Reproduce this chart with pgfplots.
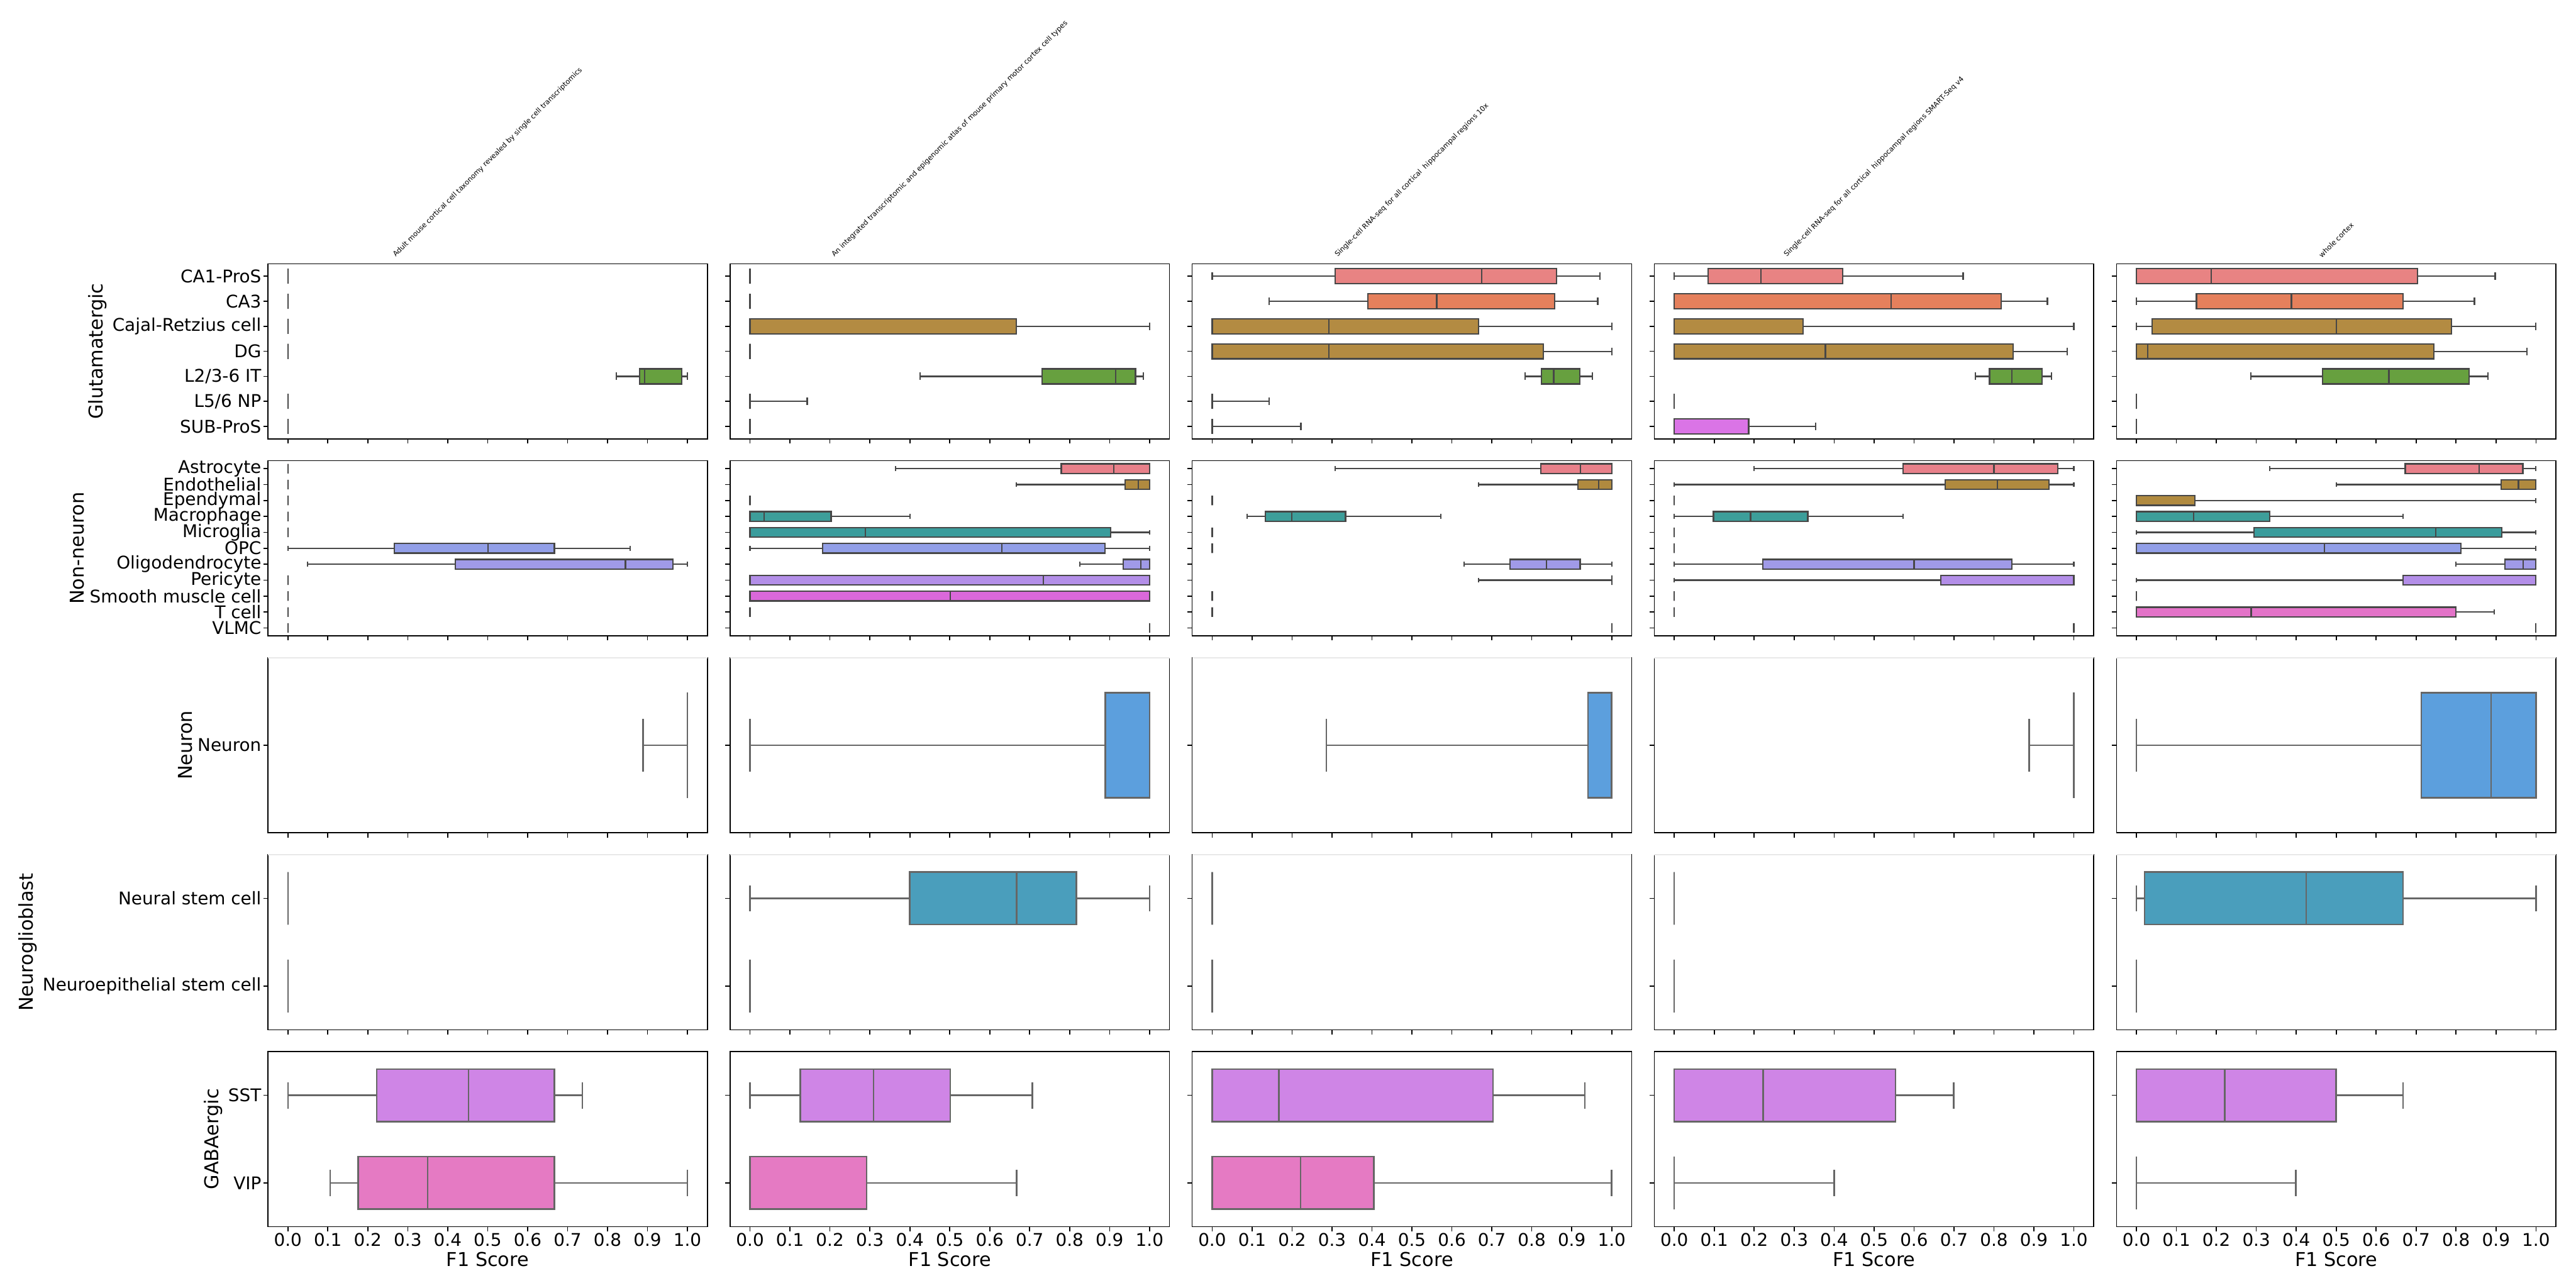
\documentclass[border=0pt]{standalone}
\usepackage{fontspec}
\setmainfont{DejaVu Sans}
\usepackage{graphicx}
\usepackage{pgfplots}
\pgfplotsset{compat=1.18}
\usepgfplotslibrary{statistics}

\definecolor{edgeA}{HTML}{474747}
\definecolor{edgeB}{HTML}{666666}
\definecolor{cCAa}{HTML}{E88383}
\definecolor{cCAb}{HTML}{E5805C}
\definecolor{cBrn}{HTML}{B38B42}
\definecolor{cGrn}{HTML}{67A03F}
\definecolor{cNP}{HTML}{3EA08E}
\definecolor{cSub}{HTML}{DA74E6}
\definecolor{cAst}{HTML}{E8808A}
\definecolor{cEnd}{HTML}{B08A3F}
\definecolor{cMac}{HTML}{3D9E9A}
\definecolor{cMic}{HTML}{3A9C9C}
\definecolor{cOPC}{HTML}{929FE8}
\definecolor{cOli}{HTML}{A09AE8}
\definecolor{cPer}{HTML}{B38EE8}
\definecolor{cSmo}{HTML}{DA68DA}
\definecolor{cTce}{HTML}{E373C8}
\definecolor{cVLM}{HTML}{E680B0}
\definecolor{cNeu}{HTML}{5C9FDD}
\definecolor{cNSC}{HTML}{4A9EBC}
\definecolor{cSST}{HTML}{CF85E6}
\definecolor{cVIP}{HTML}{E57AC3}

\newcommand{\bx}[7]{\addplot[bxs, fill=#7, boxplot prepared={draw position=#1, lower whisker=#2, lower quartile=#3, median=#4, upper quartile=#5, upper whisker=#6}] coordinates {};}

\pgfplotsset{
  bxs/.style={draw=edgeA, line width=0.55pt, solid},
  panel/.style={scale only axis, width=170.6pt, height=68pt, anchor=north west,
    xmin=-0.05, xmax=1.05, xtick={0,0.1,0.2,0.3,0.4,0.5,0.6,0.7,0.8,0.9,1},
    xticklabels={}, yticklabels={}, y dir=reverse, tick pos=left, tick align=outside,
    major tick length=1.8pt, axis line style={line width=0.4pt},
    every tick/.style={black, line width=0.4pt}, clip=false,
    boxplot/draw direction=x, boxplot/box extend=0.6, boxplot/whisker extend=0.3,
    tick label style={font=\fontsize{6.8}{8}\selectfont, inner sep=0.6pt},
    label style={font=\fontsize{7.4}{9}\selectfont},
    ylabel shift=-2pt, xlabel shift=-2pt},
  rowA/.style={panel, ytick={0,1,2,3,4,5,6}, ymin=-0.5, ymax=6.5},
  rowB/.style={panel, ytick={0,1,2,3,4,5,6,7,8,9,10}, ymin=-0.5, ymax=10.5},
  rowC/.style={panel, ytick={0}, ymin=-0.5, ymax=0.5, bxs/.style={draw=edgeB, line width=0.6pt, solid}},
  rowD/.style={panel, ytick={0,1}, ymin=-0.5, ymax=1.5, bxs/.style={draw=edgeB, line width=0.6pt, solid}},
  rowE/.style={panel, ytick={0,1}, ymin=-0.5, ymax=1.5, bxs/.style={draw=edgeB, line width=0.6pt, solid},
    xticklabels={0.0,0.1,0.2,0.3,0.4,0.5,0.6,0.7,0.8,0.9,1.0}, xlabel={F1 Score}},
  labA/.style={yticklabels={CA1-ProS,CA3,Cajal-Retzius cell,DG,L2/3-6 IT,L5/6 NP,SUB-ProS}, ylabel={Glutamatergic}},
  labB/.style={yticklabels={Astrocyte,Endothelial,Ependymal,Macrophage,Microglia,OPC,Oligodendrocyte,Pericyte,Smooth muscle cell,T cell,VLMC}, ylabel={Non-neuron}},
  labC/.style={yticklabels={Neuron}, ylabel={Neuron}},
  labD/.style={yticklabels={Neural stem cell,Neuroepithelial stem cell}, ylabel={Neuroglioblast}},
  labE/.style={yticklabels={SST,VIP}, ylabel={GABAergic}},
}

\begin{document}
\begin{tikzpicture}
\useasboundingbox (0,0) rectangle (1000pt,500pt);

% ---------------- Row 1: Glutamatergic ----------------
\begin{axis}[rowA, labA, name=r1c1, at={(104pt,397.6pt)}]
\bx{0}{0}{0}{0}{0}{0}{cCAa}
\bx{1}{0}{0}{0}{0}{0}{cCAb}
\bx{2}{0}{0}{0}{0}{0}{cBrn}
\bx{3}{0}{0}{0}{0}{0}{cBrn}
\bx{4}{0.822}{0.880}{0.893}{0.986}{1.0}{cGrn}
\bx{5}{0}{0}{0}{0}{0}{cNP}
\bx{6}{0}{0}{0}{0}{0}{cSub}
\end{axis}
\begin{axis}[rowA, name=r1c2, at={(283.4pt,397.6pt)}]
\bx{0}{0}{0}{0}{0}{0}{cCAa}
\bx{1}{0}{0}{0}{0}{0}{cCAb}
\bx{2}{0}{0}{0}{0.667}{1.0}{cBrn}
\bx{3}{0}{0}{0}{0}{0}{cBrn}
\bx{4}{0.426}{0.731}{0.915}{0.965}{0.984}{cGrn}
\bx{5}{0}{0}{0}{0}{0.143}{cNP}
\bx{6}{0}{0}{0}{0}{0}{cSub}
\end{axis}
\begin{axis}[rowA, name=r1c3, at={(462.8pt,397.6pt)}]
\bx{0}{0}{0.308}{0.675}{0.862}{0.970}{cCAa}
\bx{1}{0.143}{0.390}{0.562}{0.857}{0.965}{cCAb}
\bx{2}{0}{0}{0.292}{0.667}{1.0}{cBrn}
\bx{3}{0}{0}{0.292}{0.829}{1.0}{cBrn}
\bx{4}{0.783}{0.824}{0.855}{0.920}{0.952}{cGrn}
\bx{5}{0}{0}{0}{0}{0.143}{cNP}
\bx{6}{0}{0}{0}{0}{0.222}{cSub}
\end{axis}
\begin{axis}[rowA, name=r1c4, at={(642.2pt,397.6pt)}]
\bx{0}{0}{0.085}{0.217}{0.422}{0.723}{cCAa}
\bx{1}{0}{0}{0.543}{0.818}{0.934}{cCAb}
\bx{2}{0}{0}{0}{0.322}{1.0}{cBrn}
\bx{3}{0}{0}{0.378}{0.848}{0.984}{cBrn}
\bx{4}{0.754}{0.789}{0.845}{0.920}{0.944}{cGrn}
\bx{5}{0}{0}{0}{0}{0}{cNP}
\bx{6}{0}{0}{0}{0.186}{0.354}{cSub}
\end{axis}
\begin{axis}[rowA, name=r1c5, at={(821.6pt,397.6pt)}]
\bx{0}{0}{0}{0.187}{0.704}{0.898}{cCAa}
\bx{1}{0}{0.150}{0.388}{0.667}{0.846}{cCAb}
\bx{2}{0}{0.039}{0.500}{0.788}{1.0}{cBrn}
\bx{3}{0}{0}{0.028}{0.745}{0.977}{cBrn}
\bx{4}{0.286}{0.466}{0.632}{0.832}{0.880}{cGrn}
\bx{5}{0}{0}{0}{0}{0}{cNP}
\bx{6}{0}{0}{0}{0}{0}{cSub}
\end{axis}

% ---------------- Row 2: Non-neuron ----------------
\begin{axis}[rowB, labB, name=r2c1, at={(104pt,321.15pt)}]
\bx{0}{0}{0}{0}{0}{0}{cAst}
\bx{1}{0}{0}{0}{0}{0}{cEnd}
\bx{2}{0}{0}{0}{0}{0}{cEnd}
\bx{3}{0}{0}{0}{0}{0}{cMac}
\bx{4}{0}{0}{0}{0}{0}{cMic}
\bx{5}{0}{0.267}{0.501}{0.667}{0.857}{cOPC}
\bx{6}{0.049}{0.419}{0.845}{0.964}{1.0}{cOli}
\bx{7}{0}{0}{0}{0}{0}{cPer}
\bx{8}{0}{0}{0}{0}{0}{cSmo}
\bx{9}{0}{0}{0}{0}{0}{cTce}
\bx{10}{0}{0}{0}{0}{0}{cVLM}
\end{axis}
\begin{axis}[rowB, name=r2c2, at={(283.4pt,321.15pt)}]
\bx{0}{0.364}{0.779}{0.910}{1.0}{1.0}{cAst}
\bx{1}{0.667}{0.939}{0.972}{1.0}{1.0}{cEnd}
\bx{2}{0}{0}{0}{0}{0}{cEnd}
\bx{3}{0}{0}{0.035}{0.203}{0.400}{cMac}
\bx{4}{0}{0}{0.289}{0.903}{1.0}{cMic}
\bx{5}{0}{0.182}{0.630}{0.889}{1.0}{cOPC}
\bx{6}{0.826}{0.934}{0.978}{1.0}{1.0}{cOli}
\bx{7}{0}{0}{0.734}{1.0}{1.0}{cPer}
\bx{8}{0}{0}{0.501}{1.0}{1.0}{cSmo}
\bx{9}{0}{0}{0}{0}{0}{cTce}
\bx{10}{1.0}{1.0}{1.0}{1.0}{1.0}{cVLM}
\end{axis}
\begin{axis}[rowB, name=r2c3, at={(462.8pt,321.15pt)}]
\bx{0}{0.308}{0.823}{0.922}{1.0}{1.0}{cAst}
\bx{1}{0.667}{0.915}{0.967}{1.0}{1.0}{cEnd}
\bx{2}{0}{0}{0}{0}{0}{cEnd}
\bx{3}{0.087}{0.133}{0.199}{0.334}{0.572}{cMac}
\bx{4}{0}{0}{0}{0}{0}{cMic}
\bx{5}{0}{0}{0}{0}{0}{cOPC}
\bx{6}{0.630}{0.745}{0.837}{0.921}{1.0}{cOli}
\bx{7}{0.667}{1.0}{1.0}{1.0}{1.0}{cPer}
\bx{8}{0}{0}{0}{0}{0}{cSmo}
\bx{9}{0}{0}{0}{0}{0}{cTce}
\bx{10}{1.0}{1.0}{1.0}{1.0}{1.0}{cVLM}
\end{axis}
\begin{axis}[rowB, name=r2c4, at={(642.2pt,321.15pt)}]
\bx{0}{0.200}{0.572}{0.800}{0.960}{1.0}{cAst}
\bx{1}{0}{0.678}{0.809}{0.938}{1.0}{cEnd}
\bx{2}{0}{0}{0}{0}{0}{cEnd}
\bx{3}{0}{0.098}{0.191}{0.334}{0.572}{cMac}
\bx{4}{0}{0}{0}{0}{0}{cMic}
\bx{5}{0}{0}{0}{0}{0}{cOPC}
\bx{6}{0}{0.222}{0.600}{0.845}{1.0}{cOli}
\bx{7}{0}{0.667}{1.0}{1.0}{1.0}{cPer}
\bx{8}{0}{0}{0}{0}{0}{cSmo}
\bx{9}{0}{0}{0}{0}{0}{cTce}
\bx{10}{1.0}{1.0}{1.0}{1.0}{1.0}{cVLM}
\end{axis}
\begin{axis}[rowB, name=r2c5, at={(821.6pt,321.15pt)}]
\bx{0}{0.333}{0.673}{0.858}{0.967}{1.0}{cAst}
\bx{1}{0.500}{0.913}{0.956}{1.0}{1.0}{cEnd}
\bx{2}{0}{0}{0}{0.146}{1.0}{cEnd}
\bx{3}{0}{0}{0.143}{0.334}{0.667}{cMac}
\bx{4}{0}{0.294}{0.749}{0.914}{1.0}{cMic}
\bx{5}{0}{0}{0.471}{0.812}{1.0}{cOPC}
\bx{6}{0.799}{0.922}{0.968}{1.0}{1.0}{cOli}
\bx{7}{0}{0.667}{1.0}{1.0}{1.0}{cPer}
\bx{8}{0}{0}{0}{0}{0}{cSmo}
\bx{9}{0}{0}{0.287}{0.800}{0.895}{cTce}
\bx{10}{1.0}{1.0}{1.0}{1.0}{1.0}{cVLM}
\end{axis}

% ---------------- Row 3: Neuron ----------------
\begin{axis}[rowC, labC, name=r3c1, at={(104pt,244.7pt)}]
\bx{0}{0.889}{1.0}{1.0}{1.0}{1.0}{cNeu}
\end{axis}
\begin{axis}[rowC, name=r3c2, at={(283.4pt,244.7pt)}]
\bx{0}{0}{0.889}{1.0}{1.0}{1.0}{cNeu}
\end{axis}
\begin{axis}[rowC, name=r3c3, at={(462.8pt,244.7pt)}]
\bx{0}{0.286}{0.941}{1.0}{1.0}{1.0}{cNeu}
\end{axis}
\begin{axis}[rowC, name=r3c4, at={(642.2pt,244.7pt)}]
\bx{0}{0.888}{1.0}{1.0}{1.0}{1.0}{cNeu}
\end{axis}
\begin{axis}[rowC, name=r3c5, at={(821.6pt,244.7pt)}]
\bx{0}{0}{0.713}{0.888}{1.0}{1.0}{cNeu}
\end{axis}

% ---------------- Row 4: Neuroglioblast ----------------
\begin{axis}[rowD, labD, name=r4c1, at={(104pt,168.25pt)}]
\bx{0}{0}{0}{0}{0}{0}{cNSC}
\bx{1}{0}{0}{0}{0}{0}{cNSC}
\end{axis}
\begin{axis}[rowD, name=r4c2, at={(283.4pt,168.25pt)}]
\bx{0}{0}{0.400}{0.667}{0.817}{1.0}{cNSC}
\bx{1}{0}{0}{0}{0}{0}{cNSC}
\end{axis}
\begin{axis}[rowD, name=r4c3, at={(462.8pt,168.25pt)}]
\bx{0}{0}{0}{0}{0}{0}{cNSC}
\bx{1}{0}{0}{0}{0}{0}{cNSC}
\end{axis}
\begin{axis}[rowD, name=r4c4, at={(642.2pt,168.25pt)}]
\bx{0}{0}{0}{0}{0}{0}{cNSC}
\bx{1}{0}{0}{0}{0}{0}{cNSC}
\end{axis}
\begin{axis}[rowD, name=r4c5, at={(821.6pt,168.25pt)}]
\bx{0}{0}{0.020}{0.425}{0.667}{1.0}{cNSC}
\bx{1}{0}{0}{0}{0}{0}{cNSC}
\end{axis}

% ---------------- Row 5: GABAergic ----------------
\begin{axis}[rowE, labE, name=r5c1, at={(104pt,91.8pt)}]
\bx{0}{0}{0.222}{0.452}{0.667}{0.737}{cSST}
\bx{1}{0.106}{0.176}{0.350}{0.667}{1.0}{cVIP}
\end{axis}
\begin{axis}[rowE, name=r5c2, at={(283.4pt,91.8pt)}]
\bx{0}{0}{0.126}{0.309}{0.501}{0.707}{cSST}
\bx{1}{0}{0}{0}{0.292}{0.667}{cVIP}
\end{axis}
\begin{axis}[rowE, name=r5c3, at={(462.8pt,91.8pt)}]
\bx{0}{0}{0}{0.167}{0.703}{0.933}{cSST}
\bx{1}{0}{0}{0.221}{0.405}{1.0}{cVIP}
\end{axis}
\begin{axis}[rowE, name=r5c4, at={(642.2pt,91.8pt)}]
\bx{0}{0}{0}{0.222}{0.554}{0.699}{cSST}
\bx{1}{0}{0}{0}{0}{0.400}{cVIP}
\end{axis}
\begin{axis}[rowE, name=r5c5, at={(821.6pt,91.8pt)}]
\bx{0}{0}{0}{0.221}{0.500}{0.667}{cSST}
\bx{1}{0}{0}{0}{0}{0.399}{cVIP}
\end{axis}

% light top spines of rows 3 and 4
\foreach \r in {3,4}{\foreach \c in {1,2,3,4,5}{
  \draw[color=black!9, line width=0.55pt] (r\r c\c.north west) -- (r\r c\c.north east);}}

% column titles
\tikzset{coltitle/.style={anchor=south, inner sep=0pt, yshift=2pt}}
\node[coltitle] at (r1c1.north) {\rotatebox{45}{\fontsize{2.75}{3}\selectfont Adult mouse cortical cell taxonomy revealed by single cell transcriptomics}};
\node[coltitle] at (r1c2.north) {\rotatebox{45}{\fontsize{2.75}{3}\selectfont An integrated transcriptomic and epigenomic atlas of mouse primary motor cortex cell types}};
\node[coltitle] at (r1c3.north) {\rotatebox{45}{\fontsize{2.75}{3}\selectfont Single-cell RNA-seq for all cortical\ \ hippocampal regions 10x}};
\node[coltitle] at (r1c4.north) {\rotatebox{45}{\fontsize{2.75}{3}\selectfont Single-cell RNA-seq for all cortical\ \ hippocampal regions SMART-Seq v4}};
\node[coltitle] at (r1c5.north) {\rotatebox{45}{\fontsize{2.75}{3}\selectfont whole cortex}};
\end{tikzpicture}
\end{document}
